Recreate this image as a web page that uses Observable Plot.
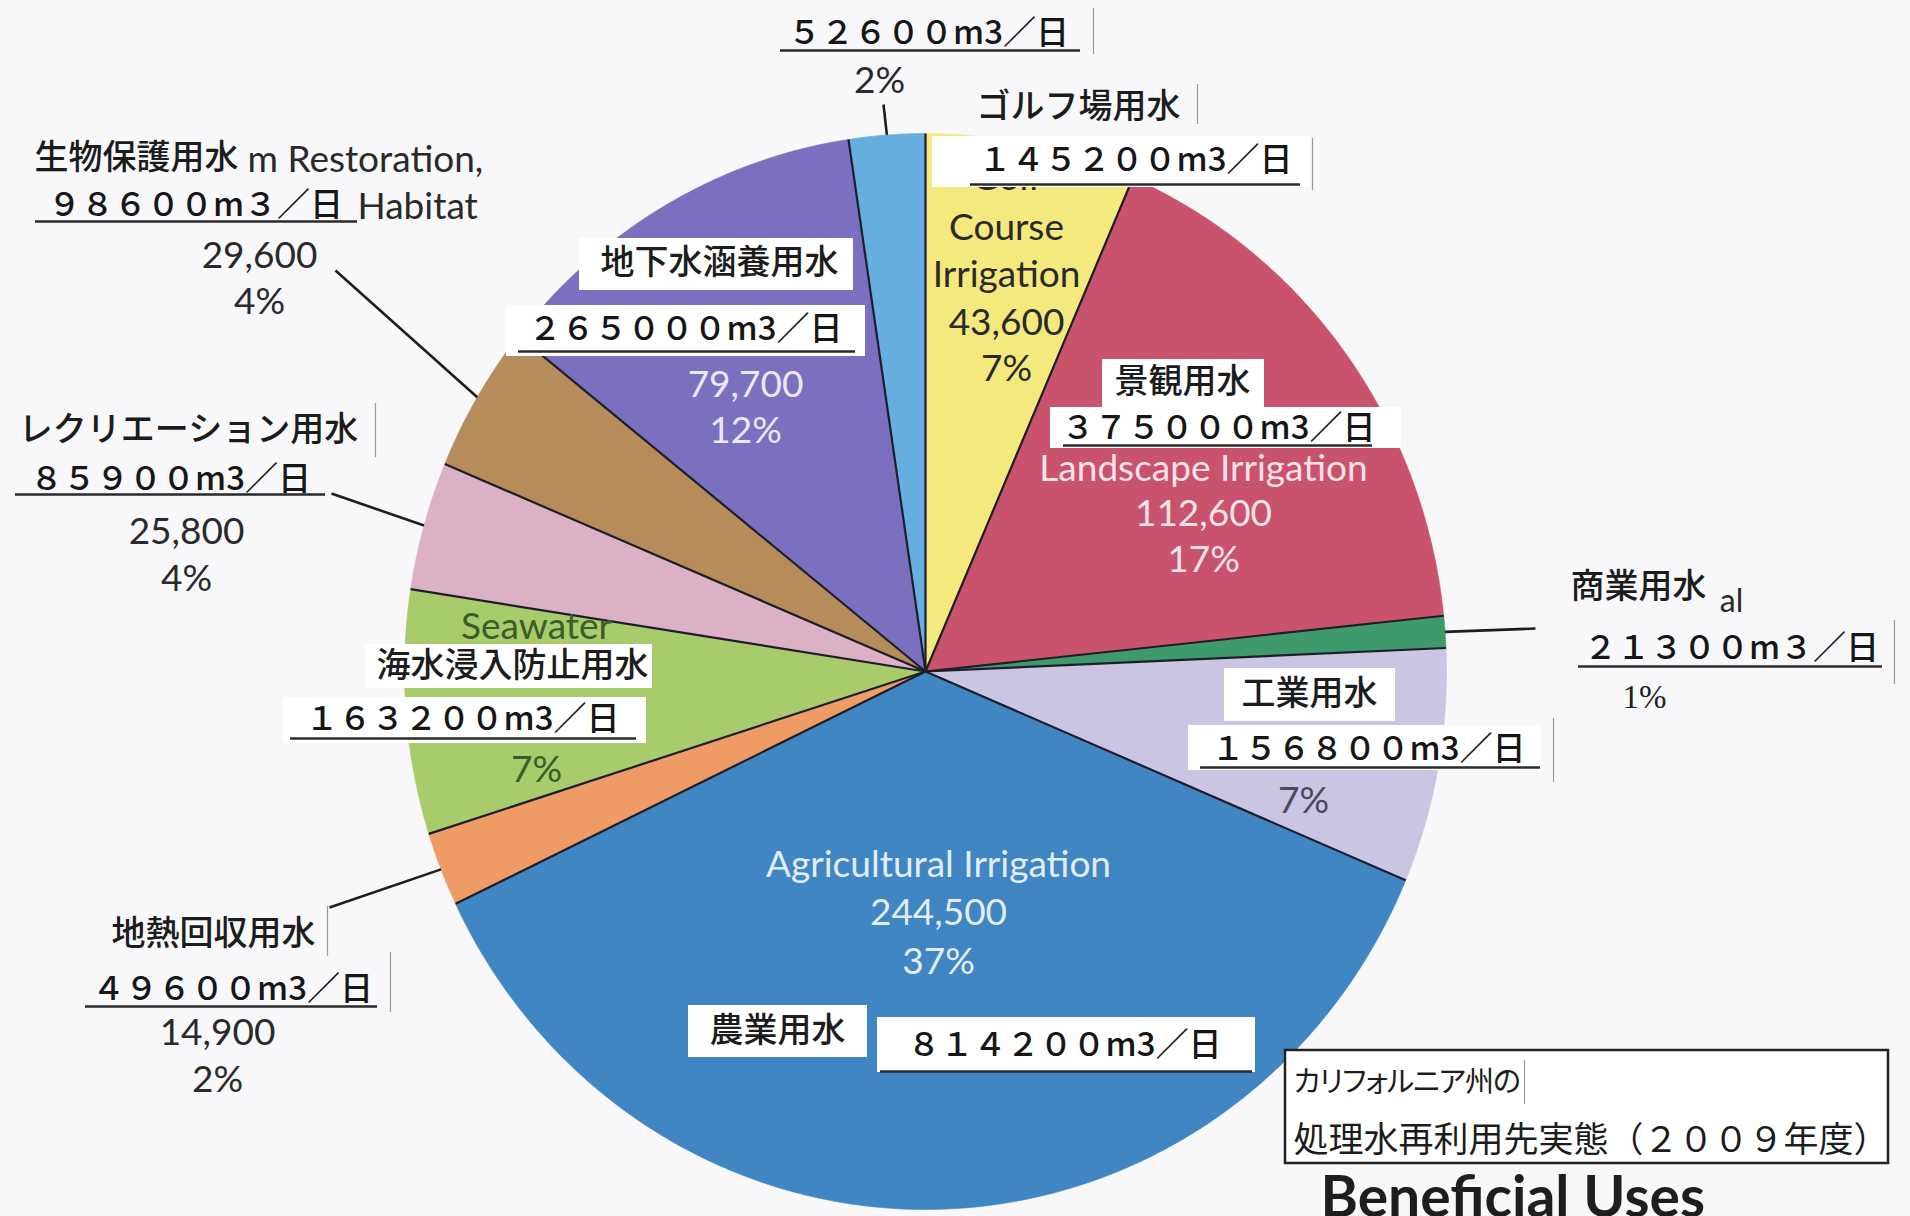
<!DOCTYPE html>
<html>
<head>
<meta charset="utf-8">
<script src="https://cdn.jsdelivr.net/npm/d3@7"></script>
<script src="https://cdn.jsdelivr.net/npm/@observablehq/plot@0.6"></script>
<style>
html,body{margin:0;padding:0;background:#f8f8fa;overflow:hidden;}
#chart svg{display:block;}
</style>
</head>
<body>
<div id="chart"></div>
<script>
// ---------------- data ----------------
const categories = [
  "Golf Course Irrigation", "Landscape Irrigation", "Commercial", "Industrial",
  "Agricultural Irrigation", "Geothermal Energy", "Seawater Intrusion Barrier",
  "Recreational Impoundment", "Natural System Restoration, Wetlands, Wildlife Habitat",
  "Groundwater Recharge", "Other"
];
const valuesAFY = [43600, 112600, 6400, 47100, 244500, 14900, 49000, 25800, 29600, 79700, 15800];
const jpNames = [
  "ゴルフ場用水", "景観用水", "商業用水", "工業用水", "農業用水", "地熱回収用水",
  "海水浸入防止用水", "レクリエーション用水", "生物保護用水", "地下水涵養用水", ""
];
const jpFlows = [
  "１４５２００m3／日", "３７５０００m3／日", "２１３００m３／日", "１５６８００m3／日",
  "８１４２００m3／日", "４９６００m3／日", "１６３２００m3／日", "８５９００m3／日",
  "９８６００m３／日", "２６５０００m3／日", "５２６００m3／日"
];
const titleLines = ["カリフォルニア州の", "処理水再利用先実態（２００９年度）"];
const caption = "Beneficial Uses";
const colors = ["#f4e97c", "#c9526c", "#3e9a6a", "#c9c5e2", "#3f86c2", "#ef9b66",
                "#a8cb6c", "#dcb1c6", "#b68c5a", "#7b6fc0", "#66aee0"];

// ---------------- layout ----------------
const W = 1910, H = 1216;
const CX = 925, CY = 671, RX = 521, RY = 538;
const edgePt = (a, r = 1) => ({x: CX + r * RX * Math.sin(a), y: CY - r * RY * Math.cos(a)});

const rows = categories.map((cat, i) => ({cat, value: valuesAFY[i], i}));
const total = d3.sum(valuesAFY);
const arcs = d3.pie().sort(null).value(d => d.value)(rows);
const mid = a => (a.startAngle + a.endAngle) / 2;
const pct = i => Math.round(valuesAFY[i] / total * 100) + "%";
const fmt = d3.format(",");

const slicePts = arcs.flatMap(a => {
  const n = Math.max(2, Math.ceil((a.endAngle - a.startAngle) / (Math.PI / 360)));
  const pts = [{cat: a.data.cat, x: CX, y: CY}];
  for (let k = 0; k <= n; k++) {
    const t = a.startAngle + (a.endAngle - a.startAngle) * k / n;
    pts.push({cat: a.data.cat, ...edgePt(t)});
  }
  pts.push({cat: a.data.cat, x: CX, y: CY});
  return pts;
});

const pre = [], T = [], boxes = [], unders = [], edges = [], leaders = [];
const words = s => s.split(" ");

// Golf (0)
pre.push({text: words(categories[0])[0], x: 1006, y: 178, s: "en"});
boxes.push({x1: 932, x2: 1310, y1: 136, y2: 187});
T.push({text: jpNames[0], x: 1078, y: 107, s: "jpName"});
T.push({text: jpFlows[0], x: 1135, y: 160, s: "jpFlow"});
unders.push({x1: 970, x2: 1300, y: 184});
edges.push({x: 1197, y1: 84, y2: 124}, {x: 1312, y1: 138, y2: 190});
T.push({text: words(categories[0])[1], x: 1006, y: 228, s: "en"});
T.push({text: words(categories[0])[2], x: 1006, y: 275, s: "en"});
T.push({text: fmt(valuesAFY[0]), x: 1006, y: 323, s: "en"});
T.push({text: pct(0), x: 1006, y: 369, s: "en"});

// Landscape (1)
boxes.push({x1: 1102, x2: 1264, y1: 359, y2: 407}, {x1: 1050, x2: 1401, y1: 407, y2: 448});
T.push({text: jpNames[1], x: 1182, y: 382, s: "jpName"});
T.push({text: jpFlows[1], x: 1218, y: 428, s: "jpFlow"});
unders.push({x1: 1063, x2: 1372, y: 445});
T.push({text: categories[1], x: 1203, y: 469, s: "enRed"});
T.push({text: fmt(valuesAFY[1]), x: 1203, y: 514, s: "enRed"});
T.push({text: pct(1), x: 1203, y: 560, s: "enRed"});

// Commercial (2)
T.push({text: categories[2].slice(-2), x: 1731, y: 601, s: "enSmall"});
T.push({text: jpNames[2], x: 1638, y: 587, s: "jpName"});
T.push({text: jpFlows[2], x: 1731, y: 648, s: "jpFlow"});
unders.push({x1: 1578, x2: 1882, y: 666});
edges.push({x: 1894, y1: 620, y2: 684});
T.push({text: pct(2), x: 1644, y: 697, s: "serif"});
leaders.push({i: 2, x: 1535, y: 628, r: 1.0});

// Industrial (3)
boxes.push({x1: 1224, x2: 1395, y1: 668, y2: 721}, {x1: 1188, x2: 1541, y1: 725, y2: 770});
T.push({text: jpNames[3], x: 1309, y: 694, s: "jpName"});
T.push({text: jpFlows[3], x: 1368, y: 749, s: "jpFlow"});
unders.push({x1: 1200, x2: 1540, y: 767});
edges.push({x: 1553, y1: 718, y2: 782});
T.push({text: pct(3), x: 1303, y: 801, s: "enLav"});

// Agricultural (4)
T.push({text: categories[4], x: 938, y: 865, s: "enBlue"});
T.push({text: fmt(valuesAFY[4]), x: 938, y: 913, s: "enBlue"});
T.push({text: pct(4), x: 938, y: 962, s: "enBlue"});
boxes.push({x1: 688, x2: 867, y1: 1005, y2: 1057}, {x1: 877, x2: 1255, y1: 1017, y2: 1072});
T.push({text: jpNames[4], x: 777, y: 1031, s: "jpName"});
T.push({text: jpFlows[4], x: 1064, y: 1045, s: "jpFlow"});
unders.push({x1: 880, x2: 1252, y: 1071});

// Geothermal (5)
T.push({text: jpNames[5], x: 213, y: 934, s: "jpName"});
edges.push({x: 327, y1: 906, y2: 956});
T.push({text: jpFlows[5], x: 232, y: 989, s: "jpFlow"});
unders.push({x1: 85, x2: 377, y: 1006});
edges.push({x: 390, y1: 952, y2: 1012});
T.push({text: fmt(valuesAFY[5]), x: 217, y: 1033, s: "en"});
T.push({text: pct(5), x: 217, y: 1080, s: "en"});
leaders.push({i: 5, x: 329, y: 907, r: 1.0});

// Seawater (6)
pre.push({text: words(categories[6])[0], x: 536, y: 627, s: "enGreen"});
boxes.push({x1: 365, x2: 652, y1: 644, y2: 688}, {x1: 283, x2: 646, y1: 697, y2: 743});
T.push({text: jpNames[6], x: 512, y: 666, s: "jpName"});
T.push({text: jpFlows[6], x: 462, y: 719, s: "jpFlow"});
unders.push({x1: 290, x2: 636, y: 738});
T.push({text: pct(6), x: 536, y: 770, s: "enGreen"});

// Recreational (7)
T.push({text: jpNames[7], x: 188, y: 430, s: "jpName"});
edges.push({x: 375, y1: 403, y2: 457});
T.push({text: jpFlows[7], x: 170, y: 479, s: "jpFlow"});
unders.push({x1: 15, x2: 325, y: 494});
T.push({text: fmt(valuesAFY[7]), x: 186, y: 532, s: "en"});
T.push({text: pct(7), x: 186, y: 579, s: "en"});
leaders.push({i: 7, x: 331, y: 493, r: 1.0});

// Habitat (8)
T.push({text: jpNames[8], x: 136, y: 158, s: "jpName"});
T.push({text: "m " + words(categories[8])[2], x: 247, y: 160, s: "enStart"});
T.push({text: jpFlows[8], x: 195, y: 205, s: "jpFlow"});
unders.push({x1: 35, x2: 357, y: 221});
T.push({text: words(categories[8])[5], x: 357, y: 207, s: "enStart"});
T.push({text: fmt(valuesAFY[8]), x: 259, y: 256, s: "en"});
T.push({text: pct(8), x: 259, y: 302, s: "en"});
leaders.push({i: 8, x: 335, y: 270, r: 1.0});

// Groundwater (9)
boxes.push({x1: 579, x2: 853, y1: 238, y2: 290}, {x1: 506, x2: 865, y1: 305, y2: 356});
T.push({text: jpNames[9], x: 719, y: 263, s: "jpName"});
T.push({text: jpFlows[9], x: 685, y: 329, s: "jpFlow"});
unders.push({x1: 518, x2: 855, y: 351});
T.push({text: fmt(valuesAFY[9]), x: 745, y: 385, s: "enPurple"});
T.push({text: pct(9), x: 745, y: 431, s: "enPurple"});

// Other (10)
T.push({text: jpFlows[10], x: 928, y: 33, s: "jpFlow"});
unders.push({x1: 780, x2: 1080, y: 50});
edges.push({x: 1093, y1: 8, y2: 54});
T.push({text: pct(10), x: 879, y: 81, s: "en"});
leaders.push({i: 10, x: 883, y: 104, r: 1.0});

// title box + caption
const titleBox = [{x1: 1285, x2: 1888, y1: 1050, y2: 1163}];
T.push({text: titleLines[0], x: 1293, y: 1082, s: "titleA"});
T.push({text: titleLines[1], x: 1293, y: 1140, s: "titleB"});
edges.push({x: 1524, y1: 1060, y2: 1104});
T.push({text: caption, x: 1320, y: 1198, s: "caption"});

const leaderLinks = leaders.map(d => {
  const e = edgePt(mid(arcs[d.i]), d.r);
  return {x1: d.x, y1: d.y, x2: e.x, y2: e.y};
});

// ---------------- styles ----------------
const EN = "Lato, 'Open Sans', sans-serif";
const JP = "'Noto Sans CJK JP', sans-serif";
const ENS = 37;
const styles = {
  jpName: {fontFamily: JP, fontSize: 34, fontWeight: 500, fill: "#1c1c1c"},
  jpFlow: {fontFamily: JP, fontSize: 33, fontWeight: 500, fill: "#161616"},
  en: {fontFamily: EN, fontSize: ENS, fill: "#2a2a2a"},
  enSmall: {fontFamily: EN, fontSize: 32, fill: "#2a2a2a"},
  enStart: {fontFamily: EN, fontSize: ENS, fill: "#2a2a2a", textAnchor: "start"},
  enRed: {fontFamily: EN, fontSize: ENS, fill: "#f6e2e8"},
  enPurple: {fontFamily: EN, fontSize: ENS, fill: "#ebe8f8"},
  enBlue: {fontFamily: EN, fontSize: ENS, fill: "#e2edf7"},
  enGreen: {fontFamily: EN, fontSize: ENS, fill: "#3d5c2a"},
  enLav: {fontFamily: EN, fontSize: ENS, fill: "#4a4a58"},
  serif: {fontFamily: "'Liberation Serif', serif", fontSize: 33, fill: "#1e1e1e"},
  titleA: {fontFamily: JP, fontSize: 29, fill: "#1c1c1c", textAnchor: "start"},
  titleB: {fontFamily: JP, fontSize: 35, fill: "#1c1c1c", textAnchor: "start"},
  caption: {fontFamily: EN, fontSize: 57, fontWeight: 700, fill: "#1e1e1e", textAnchor: "start"}
};
const textMarks = list => Object.keys(styles)
  .map(k => Plot.text(list.filter(d => d.s === k), {x: "x", y: "y", text: "text", ...styles[k]}));

// ---------------- plot ----------------
const chart = Plot.plot({
  width: W, height: H, margin: 0,
  style: {background: "#f8f8fa"},
  x: {domain: [0, W], axis: null},
  y: {domain: [0, H], range: [0, H], axis: null},
  color: {type: "ordinal", domain: categories, range: colors},
  marks: [
    Plot.line(slicePts, {x: "x", y: "y", z: "cat", fill: "cat", stroke: "cat", strokeWidth: 0.6}),
    Plot.link(arcs, {
      x1: () => CX, y1: () => CY,
      x2: a => edgePt(a.startAngle).x, y2: a => edgePt(a.startAngle).y,
      stroke: "#1e1e2a", strokeWidth: 2.2
    }),
    Plot.link(leaderLinks, {x1: "x1", y1: "y1", x2: "x2", y2: "y2", stroke: "#1e1e1e", strokeWidth: 2.6}),
    ...textMarks(pre),
    Plot.rect(boxes, {x1: "x1", x2: "x2", y1: "y1", y2: "y2", fill: "white"}),
    Plot.rect(titleBox, {x1: "x1", x2: "x2", y1: "y1", y2: "y2", fill: "white", stroke: "#222", strokeWidth: 2.5}),
    ...textMarks(T),
    Plot.ruleY(unders, {y: "y", x1: "x1", x2: "x2", stroke: "#2a2a2a", strokeWidth: 2.4}),
    Plot.ruleX(edges, {x: "x", y1: "y1", y2: "y2", stroke: "#9a9a9a", strokeWidth: 1.2})
  ]
});
document.getElementById("chart").appendChild(chart);

// proportional kana for the first title line
d3.select(chart).selectAll("text")
  .filter(function() { return this.textContent === titleLines[0]; })
  .style("font-feature-settings", "'palt'")
  .style("letter-spacing", "-1px");
</script>
</body>
</html>
